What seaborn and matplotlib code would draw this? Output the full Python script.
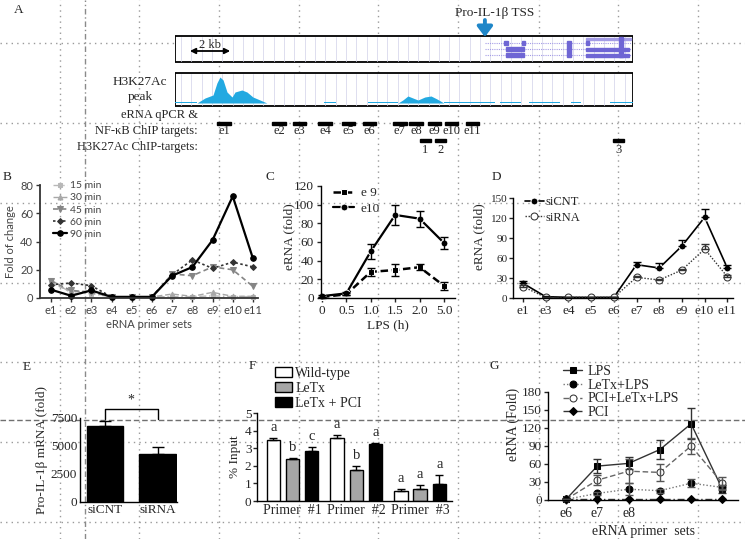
import numpy as np
import matplotlib
matplotlib.use("Agg")
import matplotlib.pyplot as plt
from matplotlib.patches import Rectangle
import seaborn as sns
import pandas as pd

sns.set_theme(style="ticks")
plt.rcParams['font.family'] = ['Liberation Serif', 'DejaVu Serif']
plt.rcParams['axes.linewidth'] = 1.0
plt.rcParams['xtick.major.size'] = 3
plt.rcParams['ytick.major.size'] = 3
plt.rcParams['xtick.major.width'] = 1.0
plt.rcParams['ytick.major.width'] = 1.0
plt.rcParams['axes.edgecolor'] = 'black'

# ---------------- data ----------------
# Panel A (genomic track, kb from left edge of window)
track_kb = 20.0
tss_kb = 13.54
enh_names = ['e1', 'e2', 'e3', 'e4', 'e5', 'e6', 'e7', 'e8', 'e9', 'e10', 'e11']
enh_kb = [2.16, 4.56, 5.45, 6.56, 7.59, 8.50, 9.83, 10.53, 11.34, 12.08, 13.00]
chip_names = ['1', '2', '3']
chip_kb = [10.95, 11.62, 19.36]
peak1_kb = [0.98, 1.33, 1.68, 1.85, 1.98, 2.12, 2.29, 2.51, 2.64, 2.94, 3.16, 3.42, 3.73, 4.03]
peak1_h = [0, 5, 8, 20, 26, 23, 11, 6, 11, 13, 11, 6, 3, 0]
peak2_kb = [9.75, 9.96, 10.18, 10.40, 10.62, 10.92, 11.19, 11.45, 11.75]
peak2_h = [0, 3, 7, 5, 3, 6, 7, 4, 0]
low_start = [0.02, 6.52, 8.44, 11.75, 13.37, 14.20, 15.46, 17.29, 18.99]
low_end = [0.98, 7.04, 9.75, 13.37, 13.98, 15.11, 16.81, 17.73, 20.0]

# Panel B
b_sets = ['e1', 'e2', 'e3', 'e4', 'e5', 'e6', 'e7', 'e8', 'e9', 'e10', 'e11']
b_15 = [13, 3.5, 3, 0.8, 0.8, 0.8, 1, 1, 1.5, 1, 1]
b_30 = [10.5, 4.7, 4.7, 0.8, 0.8, 0.8, 2.8, 1.2, 4, 1.2, 1.2]
b_45 = [12, 5.4, 4, 0.8, 0.8, 0.8, 17, 15.8, 22, 20, 8.2]
b_60 = [9.4, 10.6, 8.7, 0.8, 0.8, 0.8, 16.5, 27, 21, 25.4, 22]
b_90 = [5.9, 1.6, 5.4, 0.8, 0.8, 0.8, 15.8, 21.9, 41, 72, 28]

# Panel C
c_time = ['0', '0.5', '1.0', '1.5', '2.0', '5.0']
c_e9 = [1, 4, 28, 30, 33, 13]
c_e9_err = [0.5, 1, 4.3, 6.6, 3, 4]
c_e10 = [2, 5, 50, 89, 85, 59]
c_e10_err = [1, 1.5, 8, 11, 8.6, 6.6]

# Panel D
d_sets = ['e1', 'e3', 'e4', 'e5', 'e6', 'e7', 'e8', 'e9', 'e10', 'e11']
d_sicnt = [22, 2, 1, 1, 1, 50, 45, 78, 121, 45]
d_sicnt_err = [3, 1, 0.5, 0.5, 0.5, 3.5, 7, 9, 12, 5]
d_sirna = [17, 1, 1, 1, 1, 31, 27, 42, 73.5, 32]
d_sirna_err = [2, 0.5, 0.5, 0.5, 0.5, 2, 2, 2, 7, 2]

# Panel E
e_groups = ['siCNT', 'siRNA']
e_vals = [6800, 4300]
e_err = [450, 630]

# Panel F
f_primers = ['Primer  #1', 'Primer  #2', 'Primer  #3']
f_conditions = ['Wild-type', 'LeTx', 'LeTx + PCI']
f_wt = [3.47, 3.58, 0.57]
f_letx = [2.39, 1.76, 0.68]
f_pci = [2.84, 3.24, 0.97]
f_wt_err = [0.09, 0.17, 0.11]
f_letx_err = [0.04, 0.23, 0.23]
f_pci_err = [0.2, 0.07, 0.51]
f_letters_wt = ['a', 'a', 'a']
f_letters_letx = ['b', 'b', 'a']
f_letters_pci = ['c', 'a', 'a']

# Panel G
g_sets = ['e6', 'e7', 'e8', 'e9', 'e10', 'e11']
g_tick_labels = ['e6', 'e7', 'e8']
g_lps = [1, 56.5, 61, 84, 127, 18]
g_lps_err = [0.5, 11.5, 10, 15.5, 26, 7]
g_letx_lps = [1, 11, 18, 15.5, 28, 21]
g_letx_lps_err = [0.5, 3, 10, 3, 7, 4]
g_pci_letx_lps = [1, 33, 48, 46, 90, 28]
g_pci_letx_lps_err = [0.5, 8, 20, 14, 14, 10]
g_pci = [1, 1, 1, 1, 1, 1]

# ---------------- figure ----------------
W, H = 745, 539
fig = plt.figure(figsize=(W / 100, H / 100), dpi=100)
SERIF = ['Liberation Serif', 'DejaVu Serif']
SANS = ['Lato', 'DejaVu Sans']


def add_ax(l, t, r, b, **kw):
    ax = fig.add_axes([l / W, 1 - b / H, (r - l) / W, (b - t) / H], **kw)
    ax.set_facecolor('none')
    return ax


def ftext(x, y, s, **kw):
    return fig.text(x / W, 1 - y / H, s, **kw)


# background guide lines of the screenshot
ov = add_ax(0, 0, W, H)
ov.set_xlim(0, W)
ov.set_ylim(H, 0)
ov.axis('off')
for yy in [43, 123, 203, 283, 362, 442, 522]:
    ov.axhline(yy, color='#9a9a9a', lw=1.0, ls=(0, (1, 3)))
for xx in [60, 139, 219, 299, 378, 458, 539, 618, 698]:
    ov.axvline(xx, color='#9a9a9a', lw=1.0, ls=(0, (1, 3)))
ov.axvline(85, color='#8a8a8a', lw=1.0, ls=(0, (4, 2, 1, 2)))
ov.axhline(420, color='#707070', lw=1.0, ls=(0, (4, 2)))

# ---------------- Panel A ----------------
axA = add_ax(174.5, 0, 633, 160)
axA.set_xlim(0, track_kb)
axA.set_ylim(160, 0)
axA.axis('off')
axA.add_patch(Rectangle((0, 36), track_kb, 26, facecolor='white', edgecolor='black', lw=1.3, zorder=1))
axA.add_patch(Rectangle((0, 73), track_kb, 33, facecolor='white', edgecolor='black', lw=1.3, zorder=1))
for gx in np.arange(0.28, track_kb, 0.45):
    axA.plot([gx, gx], [37, 61], color='#d8d8ec', lw=0.6, zorder=2)
    axA.plot([gx, gx], [74, 105], color='#d8d8ec', lw=0.6, zorder=2)
# gene structure
gcol = '#6f66d4'
for ry in [43, 49, 55]:
    axA.plot([tss_kb, 19.9], [ry, ry], color='#a49ce6', lw=0.8, ls=(0, (1, 1)), zorder=3)
axA.add_patch(Rectangle((17.94, 37.5), 1.96, 2, color='#a49ce6', zorder=3))
for ry in [49, 55]:
    axA.add_patch(Rectangle((14.46, ry - 2), 0.78, 4, color=gcol, zorder=4))
    axA.add_patch(Rectangle((17.94, ry - 1.5), 1.88, 3, color=gcol, zorder=4))
for ex in [14.46, 15.24, 18.03]:
    axA.add_patch(Rectangle((ex - 0.07, 41), 0.14, 4, color=gcol, zorder=4))
axA.add_patch(Rectangle((17.12, 41), 0.18, 16, color=gcol, zorder=4))
axA.add_patch(Rectangle((19.4, 37), 0.15, 20, color=gcol, zorder=4))
# TSS arrow
axA.annotate('', xy=(tss_kb, 37), xytext=(tss_kb, 20), annotation_clip=False,
             arrowprops=dict(arrowstyle='-|>,head_length=0.6,head_width=0.45', color='#1f86c8', lw=2.8,
                             shrinkA=0, shrinkB=0, mutation_scale=10))
# 2 kb scale
axA.annotate('', xy=(2.55, 51), xytext=(0.55, 51),
             arrowprops=dict(arrowstyle='<|-|>', color='black', lw=1.3, mutation_scale=8))
axA.text(1.55, 45, '2 kb', ha='center', va='center', fontsize=9, family=SERIF, zorder=6)
# H3K27Ac signal
base = 103
pcol = '#22a9e1'
axA.fill_between(peak1_kb, base, [base - h for h in peak1_h], color=pcol, lw=0, zorder=3)
axA.fill_between(peak2_kb, base, [base - h for h in peak2_h], color=pcol, lw=0, zorder=3)
for s, e in zip(low_start, low_end):
    axA.add_patch(Rectangle((s, base - 1), e - s, 1.2, color=pcol, lw=0, zorder=3))
# target bars
for name, k in zip(enh_names, enh_kb):
    axA.add_patch(Rectangle((k - 0.29, 122), 0.58, 3, color='black', zorder=3))
    axA.text(k, 131, name, ha='center', va='center', fontsize=9, family=SERIF)
for name, k in zip(chip_names, chip_kb):
    axA.add_patch(Rectangle((k - 0.24, 139), 0.48, 3, color='black', zorder=3))
    axA.text(k, 149.5, name, ha='center', va='center', fontsize=9, family=SERIF)

ftext(19, 10, 'A', fontsize=9.5, family=SERIF, ha='center', va='center')
ftext(495, 13, 'Pro-IL-1β TSS', fontsize=9.5, family=SERIF, ha='center', va='center')
ftext(140, 82, 'H3K27Ac', fontsize=9.5, family=SERIF, ha='center', va='center')
ftext(140, 97, 'peak', fontsize=9.5, family=SERIF, ha='center', va='center')
ftext(198, 115, 'eRNA qPCR &', fontsize=9, family=SERIF, ha='right', va='center')
ftext(198, 131, 'NF-κB ChIP targets:', fontsize=9, family=SERIF, ha='right', va='center')
ftext(198, 147, 'H3K27Ac ChIP-targets:', fontsize=9, family=SERIF, ha='right', va='center')

# ---------------- Panel B ----------------
axB = add_ax(40, 185, 258, 298)
xb = np.arange(len(b_sets))
b_styles = [
    ('15 min', b_15, '#b8b8b8', 's', (0, (5, 2, 1, 2)), 1.0, 3.5),
    ('30 min', b_30, '#a8a8a8', '^', (0, (4, 2)), 1.0, 3.5),
    ('45 min', b_45, '#858585', 'v', (0, (3, 2)), 1.2, 4),
    ('60 min', b_60, '#333333', 'D', (0, (1.5, 1.5)), 1.2, 3),
    ('90 min', b_90, 'black', 'o', '-', 1.6, 4),
]
for lab, vals, col, mk, ls, lw, ms in b_styles:
    sns.lineplot(x=xb, y=vals, ax=axB, color=col, marker=mk, linestyle=ls, lw=lw,
                 markersize=ms, markeredgecolor=col, label=lab, clip_on=False)
axB.set_xlim(-0.54, 10.25)
axB.set_ylim(0, 80)
axB.set_xticks(xb)
axB.set_xticklabels(b_sets)
axB.set_yticks([0, 20, 40, 60, 80])
sns.despine(ax=axB)
for sp in ['left', 'bottom']:
    axB.spines[sp].set_color('#333333')
    axB.spines[sp].set_linewidth(1.3)
axB.tick_params(axis='both', labelsize=8, colors='#333333', labelcolor='#444444', pad=2)
for t in axB.get_xticklabels() + axB.get_yticklabels():
    t.set_family(SANS)
axB.set_xlabel('eRNA primer sets', fontsize=8, family=SANS, color='#444444', labelpad=2)
axB.set_ylabel('Fold of change', fontsize=8, family=SANS, color='#444444', labelpad=3)
legB = axB.legend(loc='upper left', bbox_to_anchor=(53 / W, 1 - 181 / H), bbox_transform=fig.transFigure,
                  frameon=False, fontsize=7.5, handlelength=1.3, handletextpad=0.3,
                  labelspacing=0.28, borderpad=0, borderaxespad=0)
for t in legB.get_texts():
    t.set_family(SANS)
    t.set_color('#444444')
ftext(7, 177, 'B', fontsize=9.5, family=SERIF, ha='center', va='center')

# ---------------- Panel C ----------------
axC = add_ax(321, 186, 455, 298)
xc = np.arange(len(c_time))
sns.lineplot(x=xc, y=c_e9, ax=axC, color='black', marker='s', linestyle=(0, (3, 1.5)), lw=1.8,
             markersize=5, label='e 9', clip_on=False)
sns.lineplot(x=xc, y=c_e10, ax=axC, color='black', marker='o', linestyle='-', lw=1.6,
             markersize=5, label='e10', clip_on=False)
axC.errorbar(xc, c_e9, yerr=c_e9_err, fmt='none', ecolor='black', elinewidth=1, capsize=3, clip_on=False)
axC.errorbar(xc, c_e10, yerr=c_e10_err, fmt='none', ecolor='black', elinewidth=1, capsize=3, clip_on=False)
axC.set_xlim(-0.04, 5.45)
axC.set_ylim(0, 120)
axC.set_xticks(xc)
axC.set_xticklabels(c_time)
axC.set_yticks(np.arange(0, 121, 20))
sns.despine(ax=axC)
axC.tick_params(axis='both', labelsize=9.5, pad=2)
axC.set_xlabel('LPS (h)', fontsize=9.5, labelpad=2)
axC.set_ylabel('eRNA (fold)', fontsize=9.5)
axC.yaxis.set_label_coords(-0.19, 0.55)
axC.legend(loc='upper left', bbox_to_anchor=(333 / W, 1 - 187 / H), bbox_transform=fig.transFigure,
           frameon=False, fontsize=9.5, handlelength=1.6, handletextpad=0.5,
           labelspacing=0.25, borderpad=0, borderaxespad=0)
ftext(270, 177, 'C', fontsize=9.5, family=SERIF, ha='center', va='center')

# ---------------- Panel D ----------------
axD = add_ax(513, 198, 733, 298)
xd = np.arange(len(d_sets))
sns.lineplot(x=xd, y=d_sicnt, ax=axD, color='black', marker='o', linestyle='-', lw=1.2,
             markersize=5, label='siCNT', clip_on=False)
sns.lineplot(x=xd, y=d_sirna, ax=axD, color='#333333', marker='o', linestyle=(0, (1, 1.2)), lw=1.0,
             markersize=5, markerfacecolor='white', markeredgecolor='#333333', label='siRNA', clip_on=False)
axD.errorbar(xd, d_sicnt, yerr=[np.zeros(len(d_sicnt)), d_sicnt_err], fmt='none', ecolor='black',
             elinewidth=1, capsize=3)
axD.errorbar(xd, d_sirna, yerr=[np.zeros(len(d_sirna)), d_sirna_err], fmt='none', ecolor='#333333',
             elinewidth=1, capsize=3)
axD.set_xlim(-0.44, 9.25)
axD.set_ylim(0, 150)
axD.set_xticks(xd)
axD.set_xticklabels(d_sets)
axD.set_yticks(np.arange(0, 151, 30))
sns.despine(ax=axD)
axD.tick_params(axis='x', labelsize=9.5, pad=2)
axD.tick_params(axis='y', labelsize=8, pad=1)
axD.set_ylabel('eRNA (fold)', fontsize=9.5)
axD.yaxis.set_label_coords(-0.125, 0.61)
axD.legend(loc='upper left', bbox_to_anchor=(525 / W, 1 - 196 / H), bbox_transform=fig.transFigure,
           frameon=False, fontsize=9, handlelength=1.5, handletextpad=0.1,
           labelspacing=0.3, borderpad=0, borderaxespad=0)
ftext(496, 177, 'D', fontsize=9.5, family=SERIF, ha='center', va='center')

# ---------------- Panel E ----------------
axE = add_ax(80, 418, 177, 501.5)
dfE = pd.DataFrame({'group': e_groups, 'value': e_vals})
sns.barplot(data=dfE, x='group', y='value', ax=axE, color='black', width=0.69,
            edgecolor='black', errorbar=None, saturation=1)
xe = [p.get_x() + p.get_width() / 2 for p in axE.patches]
axE.errorbar(xe, e_vals, yerr=[np.zeros(len(e_vals)), e_err], fmt='none', ecolor='black',
             elinewidth=1, capsize=4, clip_on=False)
axE.set_xlim(-0.476, 1.37)
axE.set_ylim(0, 7500)
axE.set_yticks([0, 2500, 5000, 7500])
sns.despine(ax=axE)
axE.tick_params(axis='both', labelsize=9.5, pad=2, length=0)
axE.set_xlabel('')
axE.set_ylabel('Pro-IL-1β mRNA (fold)', fontsize=9.5)
axE.yaxis.set_label_coords(-32 / 97, 0.62)
top_e = max(v + e for v, e in zip(e_vals, e_err))
br_y = top_e + 1100
axE.plot([xe[0], xe[0], xe[1], xe[1]], [top_e + 200, br_y, br_y, top_e + 200], color='black', lw=1, clip_on=False)
axE.text((xe[0] + xe[1]) / 2, br_y + 150, '*', ha='center', va='bottom', fontsize=10)
ftext(27, 367, 'E', fontsize=9.5, family=SERIF, ha='center', va='center')

# ---------------- Panel F ----------------
axF = add_ax(257, 413, 452, 501)
dfF = pd.DataFrame({
    'primer': f_primers * 3,
    'condition': [f_conditions[0]] * 3 + [f_conditions[1]] * 3 + [f_conditions[2]] * 3,
    'value': f_wt + f_letx + f_pci,
})
sns.barplot(data=dfF, x='primer', y='value', hue='condition', hue_order=f_conditions, ax=axF,
            palette=['white', '#a6a6a6', 'black'], edgecolor='black', linewidth=1,
            width=0.9, gap=0.3, errorbar=None, saturation=1)
errs = [f_wt_err, f_letx_err, f_pci_err]
vals = [f_wt, f_letx, f_pci]
letters = [f_letters_wt, f_letters_letx, f_letters_pci]
for cont, ev, vv, lt in zip(axF.containers, errs, vals, letters):
    xs = [b.get_x() + b.get_width() / 2 for b in cont]
    axF.errorbar(xs, vv, yerr=[np.zeros(len(vv)), ev], fmt='none', ecolor='black', elinewidth=1,
                 capsize=3, clip_on=False)
    for x, v, e, l in zip(xs, vv, ev, lt):
        axF.annotate(l, (x, v + e), xytext=(0, 3), textcoords='offset points', ha='center',
                     va='bottom', fontsize=10.5)
axF.set_xlim(-0.557, 2.5)
axF.set_ylim(0, 5)
axF.set_yticks(range(6))
sns.despine(ax=axF)
axF.tick_params(axis='y', labelsize=9.5, pad=1)
axF.tick_params(axis='x', labelsize=10, pad=2, length=0)
axF.set_xlabel('')
axF.set_ylabel('% Input', fontsize=9.5, labelpad=3)
axF.legend(loc='upper left', bbox_to_anchor=(275 / W, 1 - 367 / H), bbox_transform=fig.transFigure,
           frameon=False, fontsize=10, handlelength=1.2, handleheight=0.7, handletextpad=0.25,
           labelspacing=0.15, borderpad=0, borderaxespad=0)
ftext(252, 366, 'F', fontsize=9.5, family=SERIF, ha='center', va='center')

# ---------------- Panel G ----------------
axG = add_ax(548, 392, 738, 500)
xg = np.arange(len(g_sets))
sns.lineplot(x=xg, y=g_lps, ax=axG, color='#333333', marker='s', linestyle='-', lw=1.0,
             markersize=5, markerfacecolor='black', markeredgecolor='black', label='LPS', clip_on=False)
sns.lineplot(x=xg, y=g_letx_lps, ax=axG, color='#777777', marker='o', linestyle=(0, (1, 1.5)), lw=1.0,
             markersize=5, markerfacecolor='black', markeredgecolor='black', label='LeTx+LPS', clip_on=False)
sns.lineplot(x=xg, y=g_pci_letx_lps, ax=axG, color='#666666', marker='o', linestyle=(0, (4, 2)), lw=1.0,
             markersize=5, markerfacecolor='white', markeredgecolor='#333333', label='PCI+LeTx+LPS',
             clip_on=False)
sns.lineplot(x=xg, y=g_pci, ax=axG, color='#333333', marker='D', linestyle=(0, (5, 2, 1, 2)), lw=1.0,
             markersize=4, markerfacecolor='black', markeredgecolor='black', label='PCI', clip_on=False)
for vv, ev, col in [(g_lps, g_lps_err, '#333333'), (g_letx_lps, g_letx_lps_err, '#555555'),
                    (g_pci_letx_lps, g_pci_letx_lps_err, '#555555')]:
    axG.errorbar(xg, vv, yerr=ev, fmt='none', ecolor=col, elinewidth=1, capsize=3, clip_on=False)
axG.set_xlim(-0.575, 5.5)
axG.set_ylim(0, 180)
axG.set_xticks(xg[:len(g_tick_labels)])
axG.set_xticklabels(g_tick_labels)
axG.set_yticks(np.arange(0, 181, 30))
sns.despine(ax=axG)
axG.tick_params(axis='x', labelsize=10, pad=2)
axG.tick_params(axis='y', labelsize=9.5, pad=1.5)
axG.set_xlabel('eRNA primer  sets', fontsize=10, labelpad=4)
axG.set_ylabel('eRNA (Fold)', fontsize=10)
axG.yaxis.set_label_coords(-0.145, 0.70)
axG.legend(loc='upper left', bbox_to_anchor=(563 / W, 1 - 365 / H), bbox_transform=fig.transFigure,
           frameon=False, fontsize=10, handlelength=1.4, handletextpad=0.4,
           labelspacing=0.05, borderpad=0, borderaxespad=0)
ftext(494, 366, 'G', fontsize=9.5, family=SERIF, ha='center', va='center')

fig.savefig('out.png', dpi=100)
